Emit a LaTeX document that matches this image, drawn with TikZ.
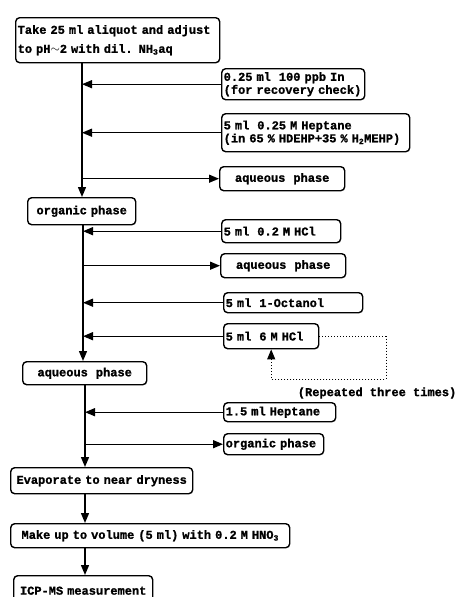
\documentclass[tikz,border=0pt]{standalone}
\usepackage{fontspec}
\setmainfont{Liberation Mono}[BoldFeatures={FakeBold=1.2}]
\usetikzlibrary{positioning}
\usetikzlibrary{arrows.meta}
\tikzset{box/.style = {draw, rounded corners=4pt, anchor=north west,
                       align=left, inner xsep=2pt, inner ysep=0pt,
                       font=\bfseries\fontsize{12}{13}\selectfont}}
\tikzset{flow/.style = {-{Triangle[length=10pt,width=8pt]}}}
\tikzset{every picture/.style={
    every path/.style={line width=1.4pt},
}}

\begin{document}
\begin{tikzpicture}[x=1pt,y=-1pt]
    \useasboundingbox (0,0) rectangle (459,597);
    % main column
    \node[box, text width=200pt, minimum height=45pt,
          font=\bfseries\fontsize{12}{19}\selectfont] (take) at (15,17)
          {Take 25 ml aliquot and adjust\\to pH$\sim$2 with dil. NH\textsubscript{3}aq};
    \node[box, align=center, text width=104pt, minimum height=27pt] (org1) at (27,197) {organic phase};
    \node[box, align=center, text width=120pt, minimum height=23pt] (aq3) at (22,361) {aqueous\ \ phase};
    \node[box, align=center, text width=178pt, minimum height=26pt] (evap) at (10,467) {Evaporate to near dryness};
    \node[box, align=center, text width=275pt, minimum height=24pt] (makeup) at (10,523)
          {Make up to volume (5 ml) with 0.2 M HNO\textsubscript{3}};
    \node[box, align=center, text width=135pt, minimum height=30pt] (icp) at (13,575) {ICP-MS measurement};
    % side boxes
    \node[box, text width=139pt, minimum height=31pt] (spike) at (221,68)
          {0.25 ml\ \ 100 ppb In\\(for recovery check)};
    \node[box, text width=184pt, minimum height=38pt] (heptane) at (221,113)
          {5 ml\ \ 0.25 M Heptane\\(in 65 \% HDEHP+35 \% H\textsubscript{2}MEHP)};
    \node[box, align=center, text width=121pt, minimum height=24pt] (aq1) at (219,166) {aqueous\ \ phase};
    \node[box, text width=115pt, minimum height=23pt] (hcl1) at (221,219) {5 ml\ \ 0.2 M HCl};
    \node[box, align=center, text width=121pt, minimum height=24pt] (aq2) at (220,253) {aqueous\ \ phase};
    \node[box, text width=135pt, minimum height=20pt] (octanol) at (223,292) {5 ml\ \ 1-Octanol};
    \node[box, text width=91pt, minimum height=25pt] (hcl6) at (223,323) {5 ml\ \ 6 M HCl};
    \node[box, text width=108pt, minimum height=19pt] (hep2) at (223,402) {1.5 ml Heptane};
    \node[box, text width=96pt, minimum height=21pt] (org2) at (223,433) {organic phase};
    \node[font=\bfseries\fontsize{12}{13}\selectfont, anchor=east, inner sep=1pt] (reptext) at (458,393)
          {(Repeated three times)};

    % trunk
    \coordinate (s1) at (82,0);
    \coordinate (s2) at (83,0);
    \coordinate (s3) at (85,0);
    \coordinate (rep) at (386,379);
    \draw[flow] (take.south -| s1) -- (org1.north -| s1);
    \draw[flow] (spike.west) -- (spike.west -| s1);
    \draw[flow] (heptane.west) -- (heptane.west -| s1);
    \draw[flow] (aq1.west -| s1) -- (aq1.west);
    \draw[flow] (org1.south -| s2) -- (aq3.north -| s2);
    \draw[flow] (hcl1.west) -- (hcl1.west -| s2);
    \draw[flow] (aq2.west -| s2) -- (aq2.west);
    \draw[flow] (octanol.west) -- (octanol.west -| s2);
    \draw[flow] (hcl6.west) -- (hcl6.west -| s2);
    \draw[line width=1pt, dotted, flow] (hcl6.east) -| (rep) -| (hcl6.south);
    \draw[flow] (aq3.south -| s3) -- (evap.north -| s3);
    \draw[flow] (hep2.west) -- (hep2.west -| s3);
    \draw[flow] (org2.west -| s3) -- (org2.west);
    \draw[flow] (evap.south -| s3) -- (makeup.north -| s3);
    \draw[flow] (makeup.south -| s3) -- (icp.north -| s3);
\end{tikzpicture}
\end{document}
